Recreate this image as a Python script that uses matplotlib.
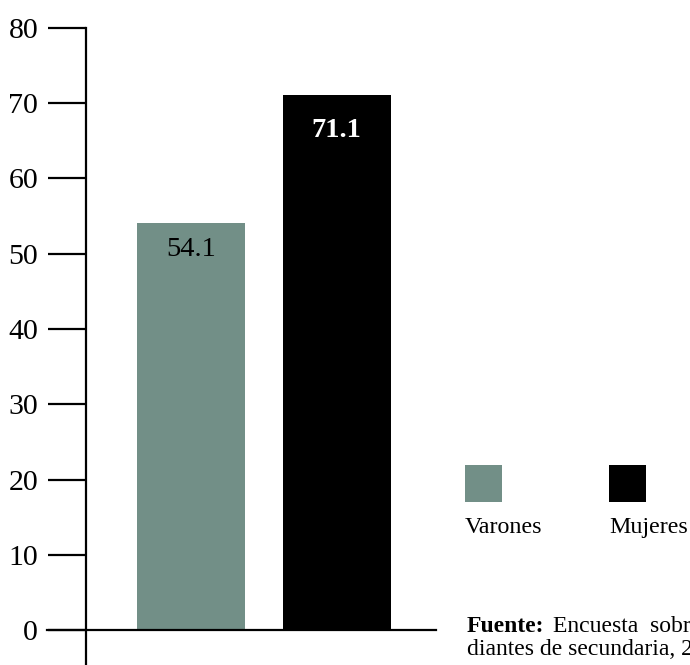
import matplotlib
matplotlib.use("Agg")
import matplotlib.pyplot as plt
from matplotlib.patches import Rectangle

plt.rcParams['font.family'] = ['Liberation Serif', 'DejaVu Serif']

categories = ["Varones", "Mujeres"]
values = [54.1, 71.1]
colors = ["#728f87", "#000000"]
label_colors = ["#000000", "#ffffff"]
label_weights = ["normal", "bold"]
label_offsets_px = [24, 33]
yticks = [0, 10, 20, 30, 40, 50, 60, 70, 80]
source_bold = "Fuente:"
source_line1 = "Encuesta  sobre"
source_line2 = "diantes de secundaria, 2"

W, H = 690, 665
fig = plt.figure(figsize=(W / 100, H / 100), dpi=100)

# axes geometry in pixels
ax_left, ax_right, ax_top = 86, 436, 28
ax = fig.add_axes([ax_left / W, 0, (ax_right - ax_left) / W, (H - ax_top) / H])
px_per_unit = (630 - 28) / 80.0
ax.set_ylim(-(H - 630) / px_per_unit, 80)

xs = list(range(len(categories)))
unit_px = 145.5
x0_px = 191
ax.set_xlim((ax_left - x0_px) / unit_px, (ax_right - x0_px) / unit_px)

bars = ax.bar(xs, values, width=108 / unit_px, color=colors, zorder=2)

for x, v, c, w, off in zip(xs, values, label_colors, label_weights, label_offsets_px):
    ax.text(x, v - off / px_per_unit, f"{v:.1f}", ha="center", va="center_baseline",
            fontsize=20.5, color=c, fontweight=w, zorder=3)

for s in ["top", "right", "bottom"]:
    ax.spines[s].set_visible(False)
ax.spines["left"].set_linewidth(1.6)
ax.spines["left"].set_color("black")

ax.set_yticks(yticks)
ax.set_yticklabels([str(t) for t in yticks])
ax.tick_params(axis="y", length=27.4, width=1.6, pad=7, labelsize=21.5, direction="out")
ax.set_xticks([])

# x baseline extending left past the axis
ax.axhline(0, xmin=(47 - ax_left) / (ax_right - ax_left), xmax=1.0,
           color="black", linewidth=1.6, clip_on=False, zorder=4)

# legend drawn manually
leg_x = [465, 609]
for lx, col, lab in zip(leg_x, colors, categories):
    fig.patches.append(Rectangle((lx / W, (H - 502) / H), 37 / W, 37 / H,
                                 transform=fig.transFigure, facecolor=col,
                                 edgecolor="none"))
    fig.text(lx / W, (H - 533) / H, lab, fontsize=17.3, ha="left",
             va="baseline")

fig.text(467 / W, (H - 632) / H, source_bold, fontsize=17, fontweight="bold",
         ha="left", va="baseline")
fig.text(553 / W, (H - 632) / H, source_line1, fontsize=17,
         ha="left", va="baseline")
fig.text(467 / W, (H - 655) / H, source_line2, fontsize=17,
         ha="left", va="baseline")

fig.savefig("out.png", dpi=100)
